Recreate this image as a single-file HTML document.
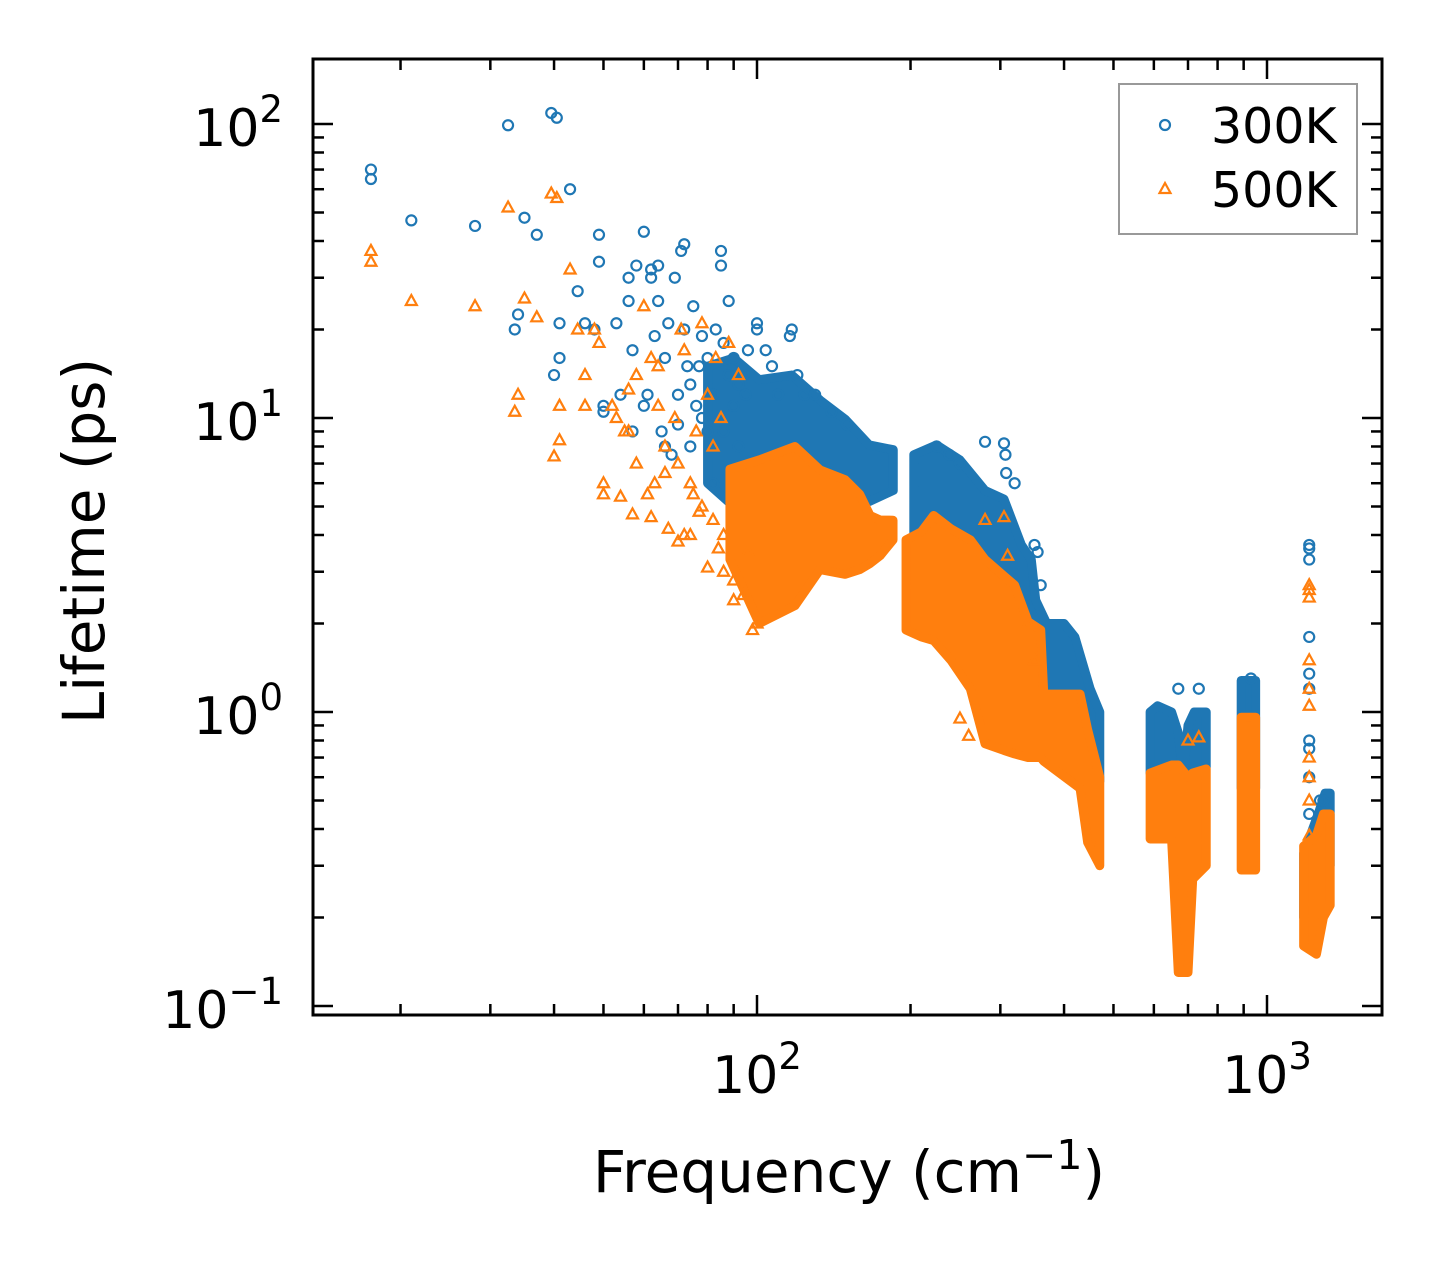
<!DOCTYPE html>
<html><head><meta charset="utf-8"><style>
body{margin:0;background:#fff}
svg text{font-family:"DejaVu Sans","Liberation Sans",sans-serif;fill:#000}
</style></head><body>
<svg id="chart" width="1442" height="1265" viewBox="0 0 1442 1265" xmlns="http://www.w3.org/2000/svg">
<rect width="1442" height="1265" fill="#fff"/>
<g id="bands"></g>
<g id="pts"></g>
<g id="axes"></g>
<g id="legend"></g>
</svg>
<script>
const xTickValues=[100,1000];
const yTickValues=[0.1,1,10,100];
const yTickExp=["−1","0","1","2"];
const xTickExp=["2","3"];
// dense-region envelopes: [freq, low, high]
const band300=[
 [[80,6,15],[90,5,16],[101,4.5,13.5],[117,4.5,14],[133,5,11.5],[149,5,9.9],[166,5.2,8.1],[185,5.67,7.8]],
 [[203,3.56,7.5],[225,3.3,8.1],[250,3.2,7.2],[280,2.6,5.67],[305,2.3,5.3],[330,2.0,3.7],[345,1.4,3.3],[352,1.2,2.4],[370,1.1,2.0],[400,0.9,2.0],[420,0.85,1.8],[450,0.65,1.2],[470,0.58,1.0]],
 [[590,0.62,1.0],[610,0.6,1.05],[650,0.62,1.0],[670,0.6,0.85],[685,0.5,0.6],[700,0.6,0.9],[720,0.6,1.0],[760,0.65,1.0]],
 [[890,0.55,1.28],[950,0.55,1.28]],
 [[1180,0.2,0.33],[1260,0.2,0.45],[1300,0.3,0.53],[1330,0.3,0.53]]
];
const band500=[
 [[88.5,3.3,6.7],[101,2.0,7.2],[118.7,2.3,8.0],[132.9,3.05,6.66],[148.8,2.94,6.17],[159,3.05,5.5],[166.6,3.2,4.66],[174.3,3.4,4.5],[184.8,3.85,4.49]],
 [[196,1.9,3.85],[210,1.8,4.1],[222,1.75,4.66],[240,1.5,4.2],[262,1.2,3.85],[280,0.78,3.3],[305,0.74,2.9],[320,0.72,2.7],[340,0.7,2.03],[360,0.7,1.9],[365,0.68,1.15],[430,0.55,1.15],[445,0.36,0.87],[470,0.3,0.6]],
 [[590,0.37,0.62],[650,0.37,0.66],[670,0.13,0.66],[700,0.13,0.6],[715,0.27,0.62],[760,0.3,0.64]],
 [[890,0.29,0.96],[950,0.29,0.96]],
 [[1180,0.16,0.35],[1250,0.15,0.38],[1290,0.2,0.45],[1330,0.22,0.45]]
];
const pts300=[[17.5,70],[17.5,65],[21,47],[28,45],[32.5,99],[35,48],[34,22.5],[33.5,20],[37,42],[39.5,109],[40.5,105],[43,60],[44.5,27],[41,21],[40,14],[41,16],[46,21],[48,20],[49,42],[49,34],[50,11],[50,10.5],[53,21],[54,12],[56,30],[56,25],[57,17],[58,33],[60,43],[61,12],[62,32],[62,30],[63,19],[64,25],[64,33],[66,16],[67,21],[69,30],[71,37],[72,39],[72,20],[73,15],[74,13],[75,24],[77,15],[78,19],[80,16],[83,20],[85,37],[85,33],[86,18],[88,25],[90,16],[94,14],[96,17],[100,21],[100,20],[104,17],[107,15],[110,12],[116,19],[117,20],[120,14],[124,12],[57,9],[60,11],[65,9],[68,7.5],[70,12],[74,8],[78,10],[80,9],[82,6],[90,11],[95,12],[225,8],[238,7.5],[250,7],[280,8.3],[305,8.2],[307,7.5],[308,6.5],[320,6],[350,3.7],[355,3.5],[360,2.7],[670,1.2],[735,1.2],[1210,3.7],[1210,3.6],[1210,3.3],[1210,1.8],[1210,1.35],[1210,1.2],[1210,0.8],[1210,0.75],[1210,0.6],[1210,0.45],[1270,0.5],[1290,0.5],[930,1.3],[130,12],[140,10.5],[150,9.5],[76,11],[82,12],[86,9],[92,8],[98,7],[70,9.5],[66,8],[88,14],[92,13]];
const pts500=[[17.5,37],[17.5,34],[21,25],[28,24],[32.5,52],[35,25.5],[34,12],[33.5,10.5],[37,22],[39.5,58],[40.5,56],[43,32],[44.5,20],[41,11],[40,7.4],[41,8.4],[46,11],[46,14],[48,20],[49,18],[50,6],[50,5.5],[53,10],[54,5.4],[56,12.5],[56,9],[57,4.7],[58,14],[60,24],[61,5.5],[62,16],[62,4.6],[64,11],[64,15],[66,6.5],[67,4.2],[69,10],[71,20],[72,17],[72,4],[74,6],[75,5.5],[77,4.8],[78,21],[80,3.1],[82,8],[84,3.6],[85,10],[86,4],[88,18],[90,2.4],[94,2.5],[96,3.5],[98,1.9],[100,2.0],[55,9],[52,11],[58,7],[63,6],[66,8],[70,7],[76,9],[80,12],[83,16],[92,14],[280,4.5],[305,4.6],[310,3.4],[250,0.95],[260,0.83],[340,2.0],[350,1.5],[700,0.8],[735,0.82],[1210,2.7],[1210,2.6],[1210,2.45],[1210,1.5],[1210,1.2],[1210,1.05],[1210,0.7],[1210,0.6],[1210,0.5],[1210,0.38],[78,5],[82,4.5],[74,4],[70,3.8],[86,3],[90,2.8]];

const L=313,R=1382,T=59,B=1015;
const xs=f=>757+510*(Math.log10(f)-2);
const ys=v=>124-294*(Math.log10(v)-2);
const NS="http://www.w3.org/2000/svg";
const C1="#1f77b4",C2="#ff7f0e";
function mk(tag,attrs,parent){const e=document.createElementNS(NS,tag);for(const k in attrs)e.setAttribute(k,attrs[k]);parent.appendChild(e);return e;}
const gB=document.getElementById('bands'),gP=document.getElementById('pts'),gA=document.getElementById('axes'),gL=document.getElementById('legend');
function drawBands(list,color,name,parent){list.forEach(b=>{
 let d='M'+b.map(p=>xs(p[0])+','+ys(p[2])).join('L')+'L'+b.slice().reverse().map(p=>xs(p[0])+','+ys(p[1])).join('L')+'Z';
 const e=mk('path',{d:d,fill:color,stroke:color,'stroke-width':9,'stroke-linejoin':'round'},parent);
 
 
});}
function circ(x,y,c,p){return mk('circle',{cx:x,cy:y,r:5,fill:'none',stroke:c,'stroke-width':2.2},p);}
function tri(x,y,c,p){return mk('path',{d:`M${x},${y-6}L${x+5.5},${y+4}L${x-5.5},${y+4}Z`,fill:'none',stroke:c,'stroke-width':2.2},p);}
drawBands(band300,C1,'cluster-300k',gP);
pts300.forEach(p=>{const e=circ(xs(p[0]),ys(p[1]),C1,gP);
 
 });
drawBands(band500,C2,'cluster-500k',gP);
pts500.forEach(p=>{const e=tri(xs(p[0]),ys(p[1]),C2,gP);
 
 });
const fr=mk('rect',{x:L,y:T,width:R-L,height:B-T,fill:'none',stroke:'#000','stroke-width':3},gA);


function line(x1,y1,x2,y2){mk('line',{x1,y1,x2,y2,stroke:'#000','stroke-width':2.5},gA);}
for(let dec=10;dec<=1000;dec*=10){for(let m=1;m<10;m++){const f=dec*m;const x=xs(f);if(x<L||x>R)continue;const len=m===1?20:11;line(x,B,x,B-len);line(x,T,x,T+len);}}
xTickValues.forEach((v,i)=>{const t=mk('text',{x:xs(v),y:1093,'font-size':52,'text-anchor':'middle'},gA);
 t.innerHTML='10<tspan dy="-24" font-size="37">'+xTickExp[i]+'</tspan>';
 
 });
for(let dec=0.01;dec<=100;dec*=10){for(let m=1;m<10;m++){const v=dec*m;const y=ys(v);if(y<T||y>B)continue;const len=m===1?20:11;line(L,y,L+len,y);line(R,y,R-len,y);}}
yTickValues.forEach((v,i)=>{const y=ys(v);
 const t=mk('text',{x:283,y:y+22,'font-size':52,'text-anchor':'end'},gA);
 t.innerHTML='10<tspan dy="-24" font-size="37">'+yTickExp[i]+'</tspan>';
 
 });
const xt=mk('text',{x:849,y:1192,'font-size':58,'text-anchor':'middle'},gA);


xt.innerHTML='Frequency (cm<tspan dy="-23" font-size="41">−1</tspan><tspan dy="23">)</tspan>';
const yt=mk('text',{x:0,y:0,'font-size':58,'text-anchor':'middle',transform:'translate(104,541) rotate(-90)'},gA);


yt.textContent='Lifetime (ps)';
const lb=mk('rect',{x:1119,y:84,width:238,height:150,fill:'#fff',stroke:'#999','stroke-width':2},gL);


const lc=circ(1165,125,C1,gL);


const l1=mk('text',{x:1211,y:143,'font-size':49},gL);l1.textContent='300K';


const lt=tri(1165,189,C2,gL);


const l2=mk('text',{x:1211,y:207,'font-size':49},gL);l2.textContent='500K';


</script>
</body></html>
